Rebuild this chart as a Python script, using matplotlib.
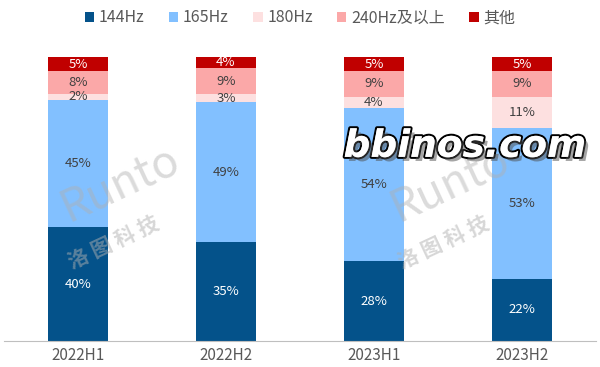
import matplotlib
matplotlib.use('Agg')
import matplotlib.pyplot as plt
import matplotlib.patheffects as pe
from matplotlib.patches import Patch
import numpy as np

plt.rcParams['font.family'] = ['Noto Sans CJK SC', 'DejaVu Sans']

periods = ['2022H1', '2022H2', '2023H1', '2023H2']
series = ['144Hz', '165Hz', '180Hz', '240Hz及以上', '其他']
hz144 = [40, 35, 28, 22]
hz165 = [45, 49, 54, 53]
hz180 = [2, 3, 4, 11]
hz240 = [8, 9, 9, 9]
other = [5, 4, 5, 5]

colors = ['#04528A', '#82C0FF', '#FDE0E0', '#FBA8A8', '#C00000']
label_colors = ['white', '#404040', '#404040', '#404040', 'white']

fig = plt.figure(figsize=(6, 3.67), dpi=100)
ax = fig.add_axes([4 / 600, 1 - 341 / 367, 592 / 600, (341 - 57) / 367])

x = np.arange(len(periods))
bottom = np.zeros(len(periods))
for vals, col, lc in zip([hz144, hz165, hz180, hz240, other], colors, label_colors):
    vals = np.array(vals, dtype=float)
    ax.bar(x, vals, bottom=bottom, width=0.41, color=col, edgecolor='none')
    for xi, b, v in zip(x, bottom, vals):
        ax.text(xi, b + v / 2, f'{int(v)}%', ha='center', va='center',
                fontsize=9.5, color=lc)
    bottom += vals

ax.set_xlim(-0.5, 3.5)
ax.set_ylim(0, 100)
ax.set_xticks(x)
ax.set_xticklabels(periods, fontsize=11, color='#595959')
ax.tick_params(axis='x', length=0, pad=4)
ax.set_yticks([])
for s in ['top', 'left', 'right']:
    ax.spines[s].set_visible(False)
ax.spines['bottom'].set_color('#BFBFBF')

handles = [Patch(facecolor=c, edgecolor='none') for c in colors]
fig.legend(handles, series, loc='center', bbox_to_anchor=(0.5, 1 - 18 / 367),
           ncol=5, frameon=False, fontsize=11.5, handlelength=0.6,
           handleheight=0.6, handletextpad=0.3, columnspacing=1.5,
           labelcolor='#595959')

# watermarks
for wx, wy in [(0.2, 0.5), (0.75, 0.5)]:
    fig.text(wx, wy, 'Runto', fontsize=32, color='#B0B0B0', alpha=0.45,
             rotation=25, ha='center', va='center', style='italic')
    fig.text(wx - 0.01, wy - 0.16, '洛 图 科 技', fontsize=15, color='#B0B0B0',
             alpha=0.5, rotation=25, ha='center', va='center', weight='bold')
fig.text(0.775, 0.6, 'bbinos.com', fontsize=27, color='white', weight='bold',
         style='italic', ha='center', va='center', family='DejaVu Sans',
         path_effects=[pe.withStroke(linewidth=3, foreground='black'),
                       pe.SimplePatchShadow(offset=(3, -3), alpha=0.5),
                       pe.Normal()])

fig.savefig('out.png', dpi=100, facecolor='white')
